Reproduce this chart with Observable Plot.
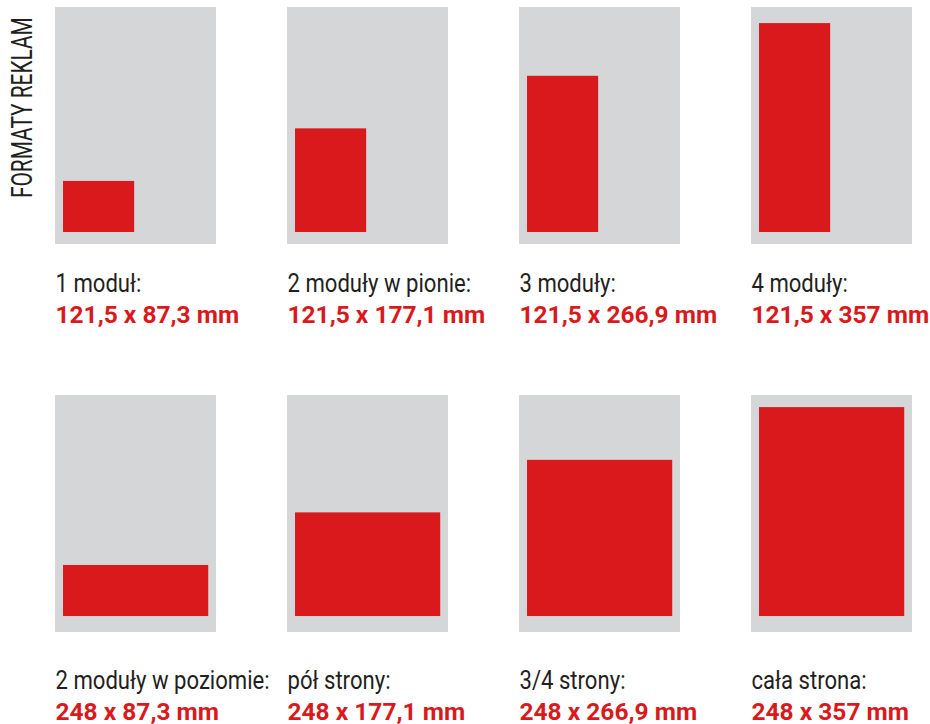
<!DOCTYPE html>
<html><head><meta charset="utf-8">
<script src="https://cdn.jsdelivr.net/npm/d3@7"></script>
<script src="https://cdn.jsdelivr.net/npm/@observablehq/plot@0.6"></script>
<style>
body{margin:0;background:#fff}
#chart{position:relative;width:930px;height:724px}
</style>
</head><body><div id="chart"></div>
<script>
// --- data ---
const formatNames = ["1 moduł:", "2 moduły w pionie:", "3 moduły:", "4 moduły:",
  "2 moduły w poziomie:", "pół strony:", "3/4 strony:", "cała strona:"];
const sizeLabels = ["121,5 x 87,3 mm", "121,5 x 177,1 mm", "121,5 x 266,9 mm", "121,5 x 357 mm",
  "248 x 87,3 mm", "248 x 177,1 mm", "248 x 266,9 mm", "248 x 357 mm"];
const adWidthMm = [121.5, 121.5, 121.5, 121.5, 248, 248, 248, 248];
const adHeightMm = [87.3, 177.1, 266.9, 357, 87.3, 177.1, 266.9, 357];
const gridRow = [0, 0, 0, 0, 1, 1, 1, 1];
const gridCol = [0, 1, 2, 3, 0, 1, 2, 3];
const pageWidthMm = 275, pageHeightMm = 405;   // grey page
const adLeftMm = 13.7;                          // ad offset from page left
const adBottomMm = [20.5, 27.3];                // ad offset from page bottom, per row
const title = "FORMATY REKLAM";

const formats = formatNames.map((name, i) => ({
  name, size: sizeLabels[i], w: adWidthMm[i], h: adHeightMm[i], row: gridRow[i], col: gridCol[i]
}));

const RED = "#d9191c", GREY = "#d5d6d8", INK = "#231f20";
const nameDy = [47, 56], sizeDy = [78, 87];

const textMarks = [0, 1].flatMap(r => {
  const rows = formats.filter(d => d.row === r);
  return [
    Plot.text(rows, {fx: "col", fy: "row", x: () => 0, y: () => 0, text: "name",
      textAnchor: "start", lineAnchor: "bottom", dy: nameDy[r],
      fontSize: 26, fontWeight: 400, fontFamily: "Roboto", fill: INK}),
    Plot.text(rows, {fx: "col", fy: "row", x: () => 0, y: () => 0, text: "size",
      textAnchor: "start", lineAnchor: "bottom", dy: sizeDy[r],
      fontSize: 24.5, fontWeight: 700, fontFamily: "Roboto", fill: RED})
  ];
});

const chart = Plot.plot({
  width: 930, height: 724,
  marginLeft: 55, marginRight: 17.9, marginTop: 7, marginBottom: 91.9,
  fx: {axis: null, domain: [0, 1, 2, 3], paddingInner: 0.30603, paddingOuter: 0},
  fy: {axis: null, domain: [0, 1], paddingInner: 0.38918, paddingOuter: 0},
  x: {axis: null, domain: [0, pageWidthMm]},
  y: {axis: null, domain: [0, pageHeightMm]},
  style: {background: "#fff", overflow: "visible"},
  marks: [
    Plot.rect(formats, {fx: "col", fy: "row", x1: () => 0, x2: () => pageWidthMm,
      y1: () => 0, y2: () => pageHeightMm, fill: GREY}),
    Plot.rect(formats, {fx: "col", fy: "row", x1: () => adLeftMm, x2: d => adLeftMm + d.w,
      y1: d => adBottomMm[d.row], y2: d => adBottomMm[d.row] + d.h, fill: RED}),
    ...textMarks
  ]
});
document.getElementById("chart").appendChild(chart);

// vertical title
const svg = d3.select(chart);
svg.append("text")
  .attr("transform", "translate(32,198) rotate(-90)")
  .attr("text-anchor", "start")
  .attr("font-family", "Roboto").attr("font-weight", 400).attr("font-size", 30)
  .attr("fill", INK).attr("class", "vtitle")
  .text(title);

// condense the DIN-condensed-like dark text
function condense(el, f) {
  const len = el.getComputedTextLength();
  el.setAttribute("textLength", (len * f).toFixed(1));
  el.setAttribute("lengthAdjust", "spacingAndGlyphs");
}
chart.querySelectorAll("text").forEach(t => {
  if (t.classList.contains("vtitle")) condense(t, 0.695);
  else if (getComputedStyle(t).fontWeight === "400") condense(t, 0.85);
});
</script>
</body></html>
